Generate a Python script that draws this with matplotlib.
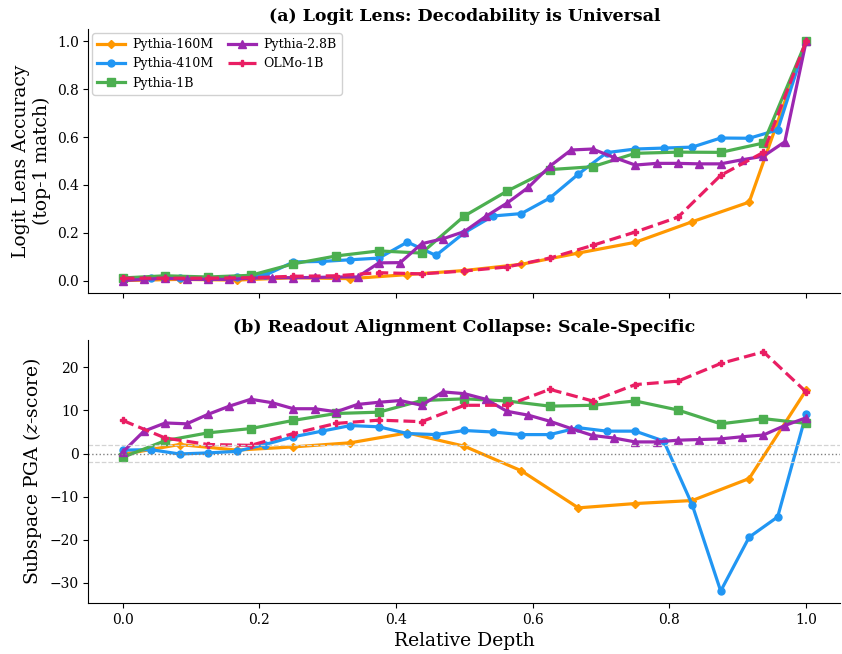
import numpy as np
import matplotlib
matplotlib.use("Agg")
import matplotlib.pyplot as plt

plt.rcParams['font.family'] = 'DejaVu Serif'
plt.rcParams['mathtext.fontset'] = 'dejavuserif'

# ── data ──────────────────────────────────────────────
models = ['Pythia-160M', 'Pythia-410M', 'Pythia-1B', 'Pythia-2.8B', 'OLMo-1B']
n_layers = [12, 24, 16, 32, 16]

# (a) logit lens top-1 accuracy per layer
lens_160m = [0.0, 0.005, 0.002, 0.012, 0.008, 0.025, 0.042, 0.068, 0.115, 0.16, 0.246, 0.328, 1.0]
lens_410m = [0.005, 0.012, 0.01, 0.01, 0.015, 0.022, 0.078, 0.08, 0.087, 0.094, 0.161, 0.105, 0.20,
             0.27, 0.28, 0.345, 0.445, 0.535, 0.55, 0.554, 0.558, 0.596, 0.595, 0.63, 1.0]
lens_1b = [0.011, 0.02, 0.015, 0.022, 0.07, 0.103, 0.124, 0.115, 0.27, 0.374, 0.464, 0.476, 0.532,
           0.537, 0.536, 0.575, 1.0]
lens_2_8b = [0.0, 0.005, 0.01, 0.005, 0.005, 0.005, 0.01, 0.012, 0.012, 0.013, 0.015, 0.015, 0.074,
             0.075, 0.154, 0.175, 0.205, 0.268, 0.324, 0.39, 0.478, 0.546, 0.55, 0.515, 0.483, 0.49,
             0.49, 0.488, 0.488, 0.505, 0.52, 0.58, 1.0]
lens_olmo = [0.01, 0.01, 0.01, 0.012, 0.018, 0.02, 0.033, 0.028, 0.04, 0.057, 0.094, 0.147, 0.203,
             0.265, 0.44, 0.536, 1.0]

# (b) subspace PGA z-scores per layer
pga_160m = [-0.2, 2.1, 0.8, 1.55, 2.5, 4.8, 1.7, -4.0, -12.6, -11.6, -10.9, -5.8, 14.7]
pga_410m = [0.8, 0.9, -0.1, 0.15, 0.5, 2.1, 3.9, 5.2, 6.5, 6.2, 4.65, 4.4, 5.35, 5.0, 4.4, 4.4,
            6.0, 5.2, 5.2, 2.9, -11.9, -31.9, -19.4, -14.7, 9.2]
pga_1b = [-0.9, 3.0, 4.8, 5.8, 7.7, 9.3, 9.6, 12.3, 12.7, 12.2, 11.0, 11.2, 12.2, 10.1, 6.9, 8.1, 7.0]
pga_2_8b = [0.3, 5.2, 7.1, 6.9, 9.1, 11.0, 12.6, 11.8, 10.4, 10.4, 9.7, 11.4, 11.9, 12.3, 11.2,
            14.3, 13.9, 12.6, 9.8, 8.9, 7.5, 5.8, 4.2, 3.6, 2.7, 2.7, 3.1, 3.25, 3.4, 3.9, 4.3, 6.5, 8.3]
pga_olmo = [7.7, 3.6, 2.1, 1.9, 4.65, 7.0, 7.75, 7.4, 11.2, 11.2, 14.9, 12.2, 16.0, 16.8, 20.9, 23.6, 14.3]

lens_data = [lens_160m, lens_410m, lens_1b, lens_2_8b, lens_olmo]
pga_data = [pga_160m, pga_410m, pga_1b, pga_2_8b, pga_olmo]

# ── style ─────────────────────────────────────────────
colors = ['#FF9800', '#2196F3', '#4CAF50', '#9C27B0', '#E91E63']
markers = ['D', 'o', 's', '^', 'P']
msizes = [4.5, 5, 5.5, 5.5, 5]
styles = ['-', '-', '-', '-', '--']

fig, (ax1, ax2) = plt.subplots(2, 1, figsize=(8.42, 6.54), dpi=100, sharex=True)
fig.subplots_adjust(left=0.105, right=0.998, top=0.955, bottom=0.078, hspace=0.18)

for name, nl, yl, yp, c, m, ms, ls in zip(models, n_layers, lens_data, pga_data,
                                          colors, markers, msizes, styles):
    depth = np.arange(nl + 1) / nl
    ax1.plot(depth, yl, ls, color=c, marker=m, ms=ms, lw=2.3, label=name)
    ax2.plot(depth, yp, ls, color=c, marker=m, ms=ms, lw=2.3, label=name)

ax1.set_title('(a) Logit Lens: Decodability is Universal', fontweight='bold', fontsize=12.5)
ax1.set_ylabel('Logit Lens Accuracy\n(top-1 match)', fontsize=13.5)
ax1.legend(loc='upper left', ncol=2, fontsize=9, framealpha=0.9,
           handlelength=2.2, columnspacing=1.2, handletextpad=0.6, borderaxespad=0.3)

ax2.axhline(0, color='gray', ls=':', lw=1)
ax2.axhline(2, color='lightgray', ls='--', lw=0.9)
ax2.axhline(-2, color='lightgray', ls='--', lw=0.9)
ax2.set_title('(b) Readout Alignment Collapse: Scale-Specific', fontweight='bold', fontsize=12.5)
ax2.set_ylabel('Subspace PGA ($z$-score)', fontsize=13.5)
ax2.set_xlabel('Relative Depth', fontsize=13.5)

for ax in (ax1, ax2):
    ax.spines['top'].set_visible(False)
    ax.spines['right'].set_visible(False)
    ax.tick_params(labelsize=10)

fig.savefig('out.png', dpi=100)
